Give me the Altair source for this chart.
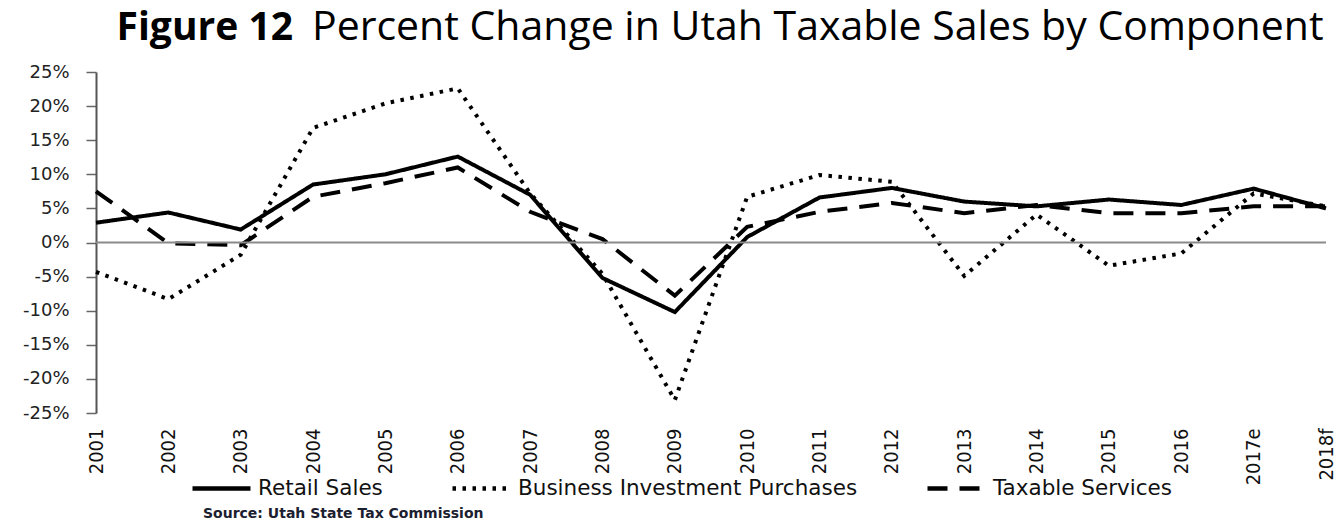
import altair as alt
import pandas as pd

years = ["2001", "2002", "2003", "2004", "2005", "2006", "2007", "2008", "2009",
         "2010", "2011", "2012", "2013", "2014", "2015", "2016", "2017e", "2018f"]
retail = [2.9, 4.4, 1.9, 8.5, 10.0, 12.6, 7.0, -5.2, -10.2,
          0.8, 6.6, 8.0, 6.0, 5.3, 6.3, 5.5, 7.9, 5.0]
business = [-4.3, -8.3, -1.8, 16.8, 20.4, 22.6, 7.2, -4.6, -23.1,
            6.7, 9.9, 8.9, -4.9, 4.1, -3.4, -1.6, 7.2, 5.3]
services = [7.5, -0.1, -0.4, 6.7, 8.7, 11.0, 4.5, 0.5, -7.8,
            2.3, 4.5, 5.8, 4.3, 5.5, 4.3, 4.3, 5.3, 5.3]
series_names = ["Retail Sales", "Business Investment Purchases", "Taxable Services"]
y_ticks = [-25, -20, -15, -10, -5, 0, 5, 10, 15, 20, 25]

rows = []
for name, vals in zip(series_names, [retail, business, services]):
    for yr, v in zip(years, vals):
        rows.append({"year": yr, "value": v, "series": name})
df = pd.DataFrame(rows)

W, H = 1230, 341
y_scale = alt.Scale(domain=[-25, 25], nice=False, zero=False)

x_enc = alt.X("year:O", sort=years, scale=alt.Scale(type="point", padding=0),
              axis=alt.Axis(title=None, labelAngle=270, ticks=False, domain=False,
                            labelFont="Liberation Sans Narrow, DejaVu Sans Condensed, Liberation Sans",
                            labelFontSize=20, labelColor="#111", labelPadding=15,
                            labelOverlap=False))
y_enc = alt.Y("value:Q", scale=y_scale,
              axis=alt.Axis(title=None, values=y_ticks, tickCount=len(y_ticks), grid=False,
                            labelExpr="datum.value + '%'", labelOverlap=False,
                            labelFont="DejaVu Sans", labelFontSize=18, labelColor="#222",
                            labelPadding=17, tickSize=10, tickColor="#666", tickWidth=1.5,
                            domainColor="#555", domainWidth=2))

lines = alt.Chart(df).mark_line(color="black", strokeWidth=4).encode(
    x=x_enc,
    y=y_enc,
    strokeDash=alt.StrokeDash(
        "series:N",
        scale=alt.Scale(domain=series_names, range=[[1, 0], [3.5, 6.5], [20, 12]]),
        legend=alt.Legend(title=None, orient="none", legendX=94, legendY=385,
                          direction="horizontal", symbolType="stroke", symbolSize=3364,
                          symbolStrokeWidth=4.5, symbolStrokeColor="black",
                          labelFont="DejaVu Sans", labelFontSize=21.5, labelColor="#111",
                          labelOffset=5, columnPadding=60, labelLimit=600),
    ),
    detail="series:N",
)

zero = alt.Chart(pd.DataFrame({"v": [0]})).mark_rule(color="#8a8a8a", strokeWidth=2).encode(
    y=alt.datum(0))

title_bold = alt.Chart(pd.DataFrame({"t": ["Figure 12"]})).mark_text(
    font="Open Sans", fontSize=39, fontWeight="bold", align="right", baseline="alphabetic", color="black"
).encode(x=alt.value(197), y=alt.value(-32), text="t:N")

title_reg = alt.Chart(pd.DataFrame({"t": ["Percent Change in Utah Taxable Sales by Component"]})).mark_text(
    font="Open Sans", fontSize=41, align="left", baseline="alphabetic", color="black"
).encode(x=alt.value(216), y=alt.value(-32), text="t:N")

source = alt.Chart(pd.DataFrame({"t": ["Source: Utah State Tax Commission"]})).mark_text(
    font="DejaVu Sans", fontSize=14, fontWeight="bold", align="left", baseline="alphabetic", color="#1b2030"
).encode(x=alt.value(107), y=alt.value(446), text="t:N")

chart = alt.layer(lines, zero, title_bold, title_reg, source).properties(
    width=W, height=H,
    autosize="none",
    padding={"left": 88, "top": 64, "right": 8, "bottom": 105},
).configure_view(stroke=None)

chart.save("out.html", embed_options={"renderer": "svg", "actions": False})
